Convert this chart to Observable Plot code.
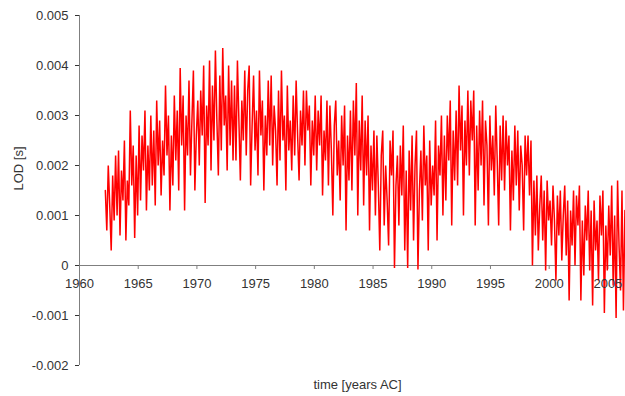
<!DOCTYPE html>
<html>
<head>
<meta charset="utf-8">
<script src="https://cdn.jsdelivr.net/npm/d3@7"></script>
<script src="https://cdn.jsdelivr.net/npm/@observablehq/plot@0.6"></script>
<style>
  html, body { margin: 0; padding: 0; background: #fff; }
  #chart svg { display: block; }
</style>
</head>
<body>
<div id="chart"></div>
<script>
const startYear = 1962.2;
const stepYears = 0.125;
const lodMs = [
  1.5, 0.7, 2.0, 1.2, 0.3, 1.8, 0.9, 2.2,
  1.0, 2.3, 0.6, 1.9, 1.3, 2.5, 0.5, 1.7,
  1.2, 3.1, 1.6, 2.4, 0.55, 2.2, 1.0, 2.8,
  1.3, 2.6, 1.9, 3.1, 1.1, 2.4, 1.5, 3.0,
  1.6, 2.7, 1.2, 3.3, 2.0, 2.9, 1.4, 2.5,
  1.8, 3.6, 2.2, 3.0, 1.1, 2.6, 1.6, 3.4,
  2.1, 3.1, 1.5, 3.95, 2.4, 3.4, 1.1, 3.0,
  2.2, 3.7, 1.8, 2.9, 3.9, 1.5, 2.6, 3.3,
  2.0, 3.5, 2.6, 4.0, 1.25, 3.2, 2.4, 4.1,
  1.9, 3.6, 2.5, 4.3, 2.9, 1.8, 3.8, 2.3,
  4.35, 2.8, 3.4, 1.9, 4.0, 2.4, 3.7, 2.1,
  3.6, 2.1, 4.1, 2.9, 1.7, 3.3, 2.5, 3.9,
  2.2, 3.5, 4.0, 1.6, 2.8, 3.8, 2.3, 3.1,
  1.8, 3.9, 2.6, 3.3, 1.5, 3.0, 2.2, 3.7,
  2.4, 3.8, 2.0, 3.2, 2.7, 1.6, 3.5, 2.1,
  3.9, 2.5, 3.0, 1.5, 3.6, 2.3, 2.9, 1.9,
  3.4, 2.2, 3.7, 2.6, 1.7, 3.1, 2.4, 3.5,
  2.0, 3.5, 2.7, 3.2, 1.6, 2.9, 2.2, 3.4,
  1.9, 3.1, 2.4, 3.4, 1.4, 2.7, 2.1, 3.3,
  1.6, 3.2, 2.3, 1.0, 2.8, 3.3, 1.8, 2.5,
  1.3, 3.0, 2.0, 3.2, 0.7, 2.6, 1.7, 3.1,
  1.5, 3.3, 2.2, 3.65, 1.0, 2.9, 1.9, 3.4,
  1.2, 2.9, 1.8, 3.0, 0.7, 2.4, 1.5, 2.7,
  1.0, 2.6, 1.6, 0.3, 2.2, 2.7, 0.8, 2.0,
  1.3, 0.4, 2.5, 1.8, 2.7, -0.05, 1.6, 2.2,
  0.8, 2.4, 1.4, 2.8, 0.3, 1.9, -0.05, 2.3,
  1.1, 2.6, 0.5, 2.0, 2.7, -0.08, 1.5, 2.3,
  0.9, 2.8, 1.6, 2.2, 0.3, 2.5, 1.2, 2.0,
  1.4, 2.9, 0.5, 2.4, 1.8, 3.0, 1.0, 2.6,
  1.3, 3.0, 2.1, 3.3, 0.8, 2.7, 1.7, 3.1,
  1.6, 3.6, 2.3, 3.2, 1.0, 2.9, 2.0, 3.5,
  1.8, 3.3, 2.5, 3.5, 0.8, 2.8, 1.5, 3.1,
  2.0, 3.3, 1.2, 2.9, 2.4, 0.8, 3.0, 1.9,
  2.6, 1.4, 3.2, 2.1, 0.8, 2.8, 1.7, 3.0,
  1.5, 2.9, 2.0, 2.6, 0.7, 2.3, 1.3, 2.8,
  1.6, 2.7, 1.1, 2.4, 2.0, 0.7, 2.6, 1.8,
  2.6, 1.4, 2.5, 0.0, 1.7, 0.6, 1.8, 0.3,
  1.2, 1.8, 0.5, 1.5, -0.1, 1.7, 0.9, 1.3,
  0.4, 1.6, 0.9, -0.3, 1.4, 0.6, 1.5, 0.1,
  1.0, 1.6, 0.2, 1.3, -0.7, 1.1, 0.4, 1.5,
  0.0, 1.4, 0.8, 1.6, -0.7, 0.9, -0.2, 1.2,
  0.5, 1.5, -0.1, 1.1, -0.8, 1.3, 0.3, 0.9,
  -0.3, 1.4, 0.6, 1.5, -0.95, 0.8, -0.1, 1.2,
  0.2, 1.6, -0.4, 1.0, -1.05, 1.7, 0.4, -0.5,
  1.5, -0.9, 1.1
];
const xTicks = [1960, 1965, 1970, 1975, 1980, 1985, 1990, 1995, 2000, 2005];
const yTicks = [-0.002, -0.001, 0, 0.001, 0.002, 0.003, 0.004, 0.005];
const xTitle = "time [years AC]";
const yTitle = "LOD [s]";

const series = lodMs.map((v, i) => ({ year: startYear + i * stepYears, lod: v / 1000 }));

const font = "'Liberation Sans', Arial, Helvetica, sans-serif";
const axisColor = "#7f7f7f";

const chart = Plot.plot({
  width: 625,
  height: 396,
  marginLeft: 79,
  marginRight: 0,
  marginTop: 15,
  marginBottom: 31,
  style: { fontFamily: font, fontSize: "13px", color: "#333", background: "#fff" },
  x: { domain: [1960, 2006.5], axis: null },
  y: {
    domain: [-0.002, 0.005],
    ticks: yTicks,
    tickSize: 4,
    tickPadding: 7,
    tickFormat: d => (d === 0 ? "0" : d.toFixed(3)),
    label: null
  },
  marks: [
    Plot.ruleX([1960], { y1: -0.002, y2: 0.005, stroke: axisColor }),
    Plot.ruleY([0], { stroke: axisColor }),
    Plot.ruleX(xTicks, { x: d => d, y1: 0, y2: -0.00008, stroke: axisColor }),
    Plot.line(series, { x: "year", y: "lod", stroke: "#ff0000", strokeWidth: 1.5, strokeLinejoin: "miter" }),
    Plot.text(xTicks, { x: d => d, y: 0, dy: 18, text: d => String(d), fill: "#333", fontSize: 13, lineAnchor: "middle" }),
    Plot.text([xTitle], { frameAnchor: "bottom", dx: 5, dy: 19, text: d => d, fill: "#333", fontSize: 13, lineAnchor: "middle" }),
    Plot.text([yTitle], { frameAnchor: "left", dx: -61, rotate: -90, text: d => d, fill: "#333", fontSize: 13, lineAnchor: "middle" })
  ]
});

document.getElementById("chart").appendChild(chart);
</script>
</body>
</html>
